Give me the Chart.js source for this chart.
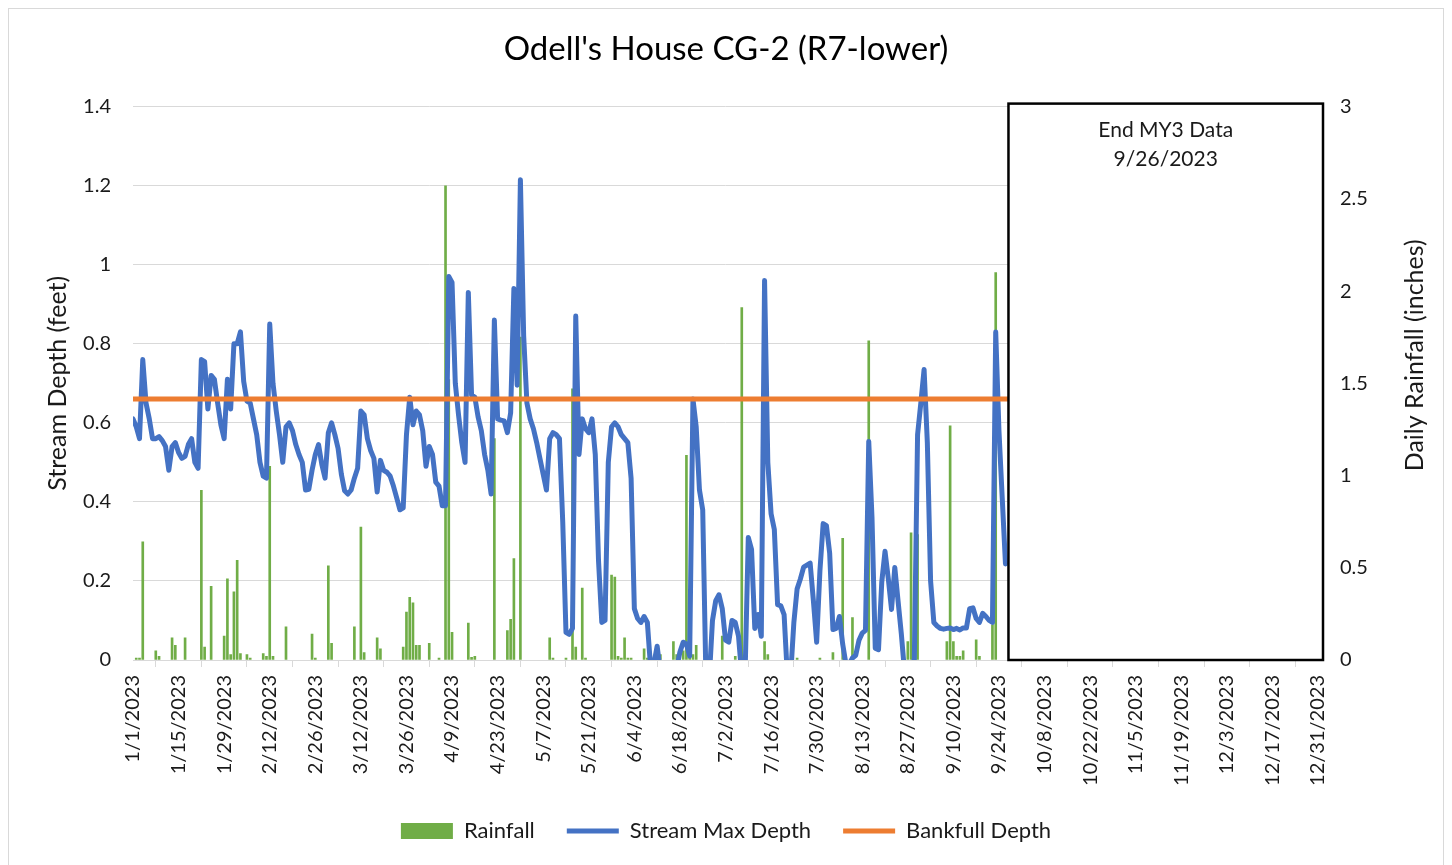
<!DOCTYPE html>
<html>
<head>
<meta charset="utf-8">
<script src="https://cdn.jsdelivr.net/npm/chart.js@4.4.1/dist/chart.umd.min.js"></script>
<style>
  html, body { margin: 0; padding: 0; background: #fff; }
</style>
</head>
<body>
<canvas id="depth-chart" width="1452" height="865"></canvas>
<script>
// daily max stream depth (ft) from 1/1/2023 up to the end of MY3 data
const depthFt = [
  0.61, 0.59, 0.56, 0.76, 0.65, 0.61, 0.56, 0.56, 0.565, 0.555,
  0.54, 0.48, 0.54, 0.55, 0.525, 0.51, 0.515, 0.545, 0.56, 0.50,
  0.485, 0.76, 0.755, 0.635, 0.72, 0.71, 0.65, 0.595, 0.56, 0.71,
  0.635, 0.80, 0.80, 0.83, 0.705, 0.655, 0.65, 0.61, 0.57, 0.50,
  0.465, 0.46, 0.85, 0.70, 0.63, 0.57, 0.50, 0.59, 0.60, 0.58,
  0.545, 0.52, 0.50, 0.43, 0.432, 0.48, 0.52, 0.545, 0.495, 0.46,
  0.575, 0.60, 0.57, 0.535, 0.47, 0.428, 0.42, 0.43, 0.46, 0.485,
  0.63, 0.62, 0.56, 0.53, 0.51, 0.425, 0.505, 0.48, 0.475, 0.465,
  0.44, 0.41, 0.38, 0.385, 0.57, 0.665, 0.595, 0.63, 0.62, 0.58,
  0.49, 0.54, 0.52, 0.45, 0.44, 0.39, 0.39, 0.97, 0.955, 0.70,
  0.62, 0.55, 0.50, 0.93, 0.67, 0.665, 0.615, 0.58, 0.52, 0.48,
  0.42, 0.86, 0.61, 0.607, 0.605, 0.575, 0.625, 0.94, 0.695, 1.215,
  0.82, 0.65, 0.61, 0.585, 0.55, 0.51, 0.47, 0.43, 0.56, 0.575,
  0.57, 0.56, 0.35, 0.07, 0.065, 0.08, 0.87, 0.52, 0.61, 0.585,
  0.575, 0.61, 0.52, 0.25, 0.095, 0.10, 0.50, 0.59, 0.60, 0.59,
  0.57, 0.56, 0.55, 0.46, 0.13, 0.105, 0.095, 0.11, 0.095, -0.02,
  -0.01, 0.035, -0.03, -0.06, -0.06, -0.06, -0.05, -0.02, 0.02, 0.045,
  0.04, 0.01, 0.66, 0.59, 0.43, 0.38, -0.05, -0.05, 0.10, 0.15,
  0.165, 0.13, 0.05, 0.045, 0.10, 0.095, 0.06, -0.04, -0.04, 0.31,
  0.28, 0.08, 0.115, 0.06, 0.96, 0.50, 0.37, 0.33, 0.14, 0.137,
  0.115, -0.04, -0.04, 0.095, 0.18, 0.205, 0.235, 0.24, 0.245, 0.15,
  0.045, 0.225, 0.345, 0.34, 0.27, 0.077, 0.08, 0.11, 0.04, -0.01,
  -0.01, 0.005, 0.012, 0.05, 0.068, 0.075, 0.553, 0.36, 0.03, 0.026,
  0.197, 0.275, 0.206, 0.128, 0.234, 0.15, 0.067, -0.03, -0.01, -0.01,
  0.0, 0.57, 0.65, 0.735, 0.55, 0.2, 0.095, 0.086, 0.08, 0.078,
  0.08, 0.081, 0.077, 0.08, 0.076, 0.081, 0.081, 0.13, 0.132, 0.105,
  0.095, 0.118, 0.11, 0.10, 0.095, 0.83, 0.58, 0.41, 0.243
];

// days with rainfall and the amount (inches)
const rainDates = [
  '1/2', '1/3', '1/4', '1/8', '1/9', '1/13', '1/14', '1/17', '1/22', '1/23',
  '1/25', '1/29', '1/30', '1/31', '2/1', '2/2', '2/3', '2/5', '2/6', '2/10',
  '2/11', '2/12', '2/13', '2/17', '2/25', '2/26', '3/2', '3/3', '3/10', '3/12',
  '3/13', '3/17', '3/18', '3/25', '3/26', '3/27', '3/28', '3/29', '3/30', '4/2',
  '4/5', '4/7', '4/8', '4/9', '4/14', '4/15', '4/16', '4/22', '4/26', '4/27',
  '4/28', '4/30', '5/9', '5/10', '5/14', '5/16', '5/17', '5/19', '5/20', '5/28',
  '5/29', '5/30', '5/31', '6/1', '6/2', '6/3', '6/7', '6/8', '6/12', '6/16',
  '6/17', '6/19', '6/20', '6/21', '6/22', '6/23', '7/1', '7/5', '7/7', '7/14',
  '7/15', '7/24', '7/31', '8/4', '8/7', '8/10', '8/15', '8/27', '8/28', '8/29',
  '8/30', '9/8', '9/9', '9/10', '9/11', '9/12', '9/13', '9/17', '9/18', '9/22',
  '9/23'
];
const rainInches = [
  0.01, 0.01, 0.64, 0.05, 0.02, 0.12, 0.08, 0.12, 0.92, 0.07,
  0.40, 0.13, 0.44, 0.03, 0.37, 0.54, 0.035, 0.03, 0.01, 0.035,
  0.02, 1.05, 0.02, 0.18, 0.14, 0.01, 0.51, 0.09, 0.18, 0.72,
  0.04, 0.12, 0.06, 0.07, 0.26, 0.34, 0.31, 0.08, 0.08, 0.09,
  0.01, 2.57, 1.52, 0.15, 0.20, 0.015, 0.02, 1.2, 0.16, 0.22,
  0.55, 1.75, 0.12, 0.01, 0.01, 1.47, 0.07, 0.39, 0.01, 0.46,
  0.45, 0.02, 0.01, 0.12, 0.01, 0.01, 0.06, 0.01, 0.03, 0.10,
  0.03, 0.05, 1.11, 0.03, 0.03, 0.08, 0.13, 0.02, 1.91, 0.10,
  0.03, 0.01, 0.01, 0.04, 0.66, 0.23, 1.73, 0.10, 0.69, 0.09,
  0.68, 0.10, 1.27, 0.10, 0.02, 0.02, 0.05, 0.11, 0.02, 0.19,
  2.10
];

const bankfullFt = 0.66;
const endDate = '9/26';
const yearStart = new Date(2023, 0, 1);

function dayOfYear(s) {
  const [m, d] = s.split('/').map(Number);
  return Math.round((new Date(2023, m - 1, d) - yearStart) / 86400000);
}

function dateLabel(day) {
  const dt = new Date(2023, 0, 1 + day);
  return (dt.getMonth() + 1) + '/' + dt.getDate() + '/' + dt.getFullYear();
}

const fontFamily = "Lato, 'Noto Sans', sans-serif";
Chart.defaults.font.family = fontFamily;
Chart.defaults.color = '#1a1a1a';

// white page with the thin grey frame round it
const frame = {
  id: 'frame',
  beforeDraw(chart) {
    const ctx = chart.ctx;
    ctx.save();
    ctx.fillStyle = '#fff';
    ctx.fillRect(0, 0, chart.width, chart.height);
    ctx.strokeStyle = '#d9d9d9';
    ctx.lineWidth = 1;
    ctx.strokeRect(8.5, 8.5, chart.width - 17, chart.height + 20);
    ctx.restore();
  }
};

// box that blanks out the period after the last reading
const endBox = {
  id: 'endBox',
  afterDatasetsDraw(chart) {
    const { ctx, chartArea } = chart;
    const x = chart.scales.x;
    const left = x.getPixelForValue(dayOfYear(endDate)) + 3;
    const right = chartArea.right + 5;
    const top = chartArea.top - 3;
    const bottom = chartArea.bottom;
    ctx.save();
    ctx.fillStyle = '#fff';
    ctx.fillRect(left, top, right - left, bottom - top);
    ctx.strokeStyle = '#000';
    ctx.lineWidth = 2.5;
    ctx.strokeRect(left, top, right - left, bottom - top);
    ctx.fillStyle = '#1a1a1a';
    ctx.font = '21px ' + fontFamily;
    ctx.textAlign = 'center';
    ctx.textBaseline = 'middle';
    const cx = (left + right) / 2;
    ctx.fillText('End MY3 Data', cx, top + 27);
    ctx.fillText(endDate + '/2023', cx, top + 56);
    ctx.restore();
  }
};

// right axis title reads bottom-to-top like the left one
const rainTitle = {
  id: 'rainTitle',
  afterDraw(chart) {
    const { ctx, chartArea } = chart;
    const s = chart.scales.yRain;
    ctx.save();
    ctx.translate(s.right - 37, (chartArea.top + chartArea.bottom) / 2 - 28);
    ctx.rotate(-Math.PI / 2);
    ctx.fillStyle = '#1a1a1a';
    ctx.font = '25px ' + fontFamily;
    ctx.textAlign = 'center';
    ctx.textBaseline = 'middle';
    ctx.fillText('Daily Rainfall (inches)', 0, 0);
    ctx.restore();
  }
};

const rainPoints = rainDates.map((d, i) => ({ x: dayOfYear(d), y: rainInches[i] }));
const depthPoints = depthFt.map((v, i) => ({ x: i, y: v }));
const bankfullPoints = [{ x: 0, y: bankfullFt }, { x: 364, y: bankfullFt }];

const ctx = document.getElementById('depth-chart').getContext('2d');
new Chart(ctx, {
  type: 'bar',
  data: {
    datasets: [
      {
        label: 'Rainfall',
        data: rainPoints,
        yAxisID: 'yRain',
        backgroundColor: '#70AD47',
        borderWidth: 0,
        barThickness: 2,
        pointStyle: 'rect',
        order: 3
      },
      {
        type: 'line',
        label: 'Stream Max Depth',
        data: depthPoints,
        yAxisID: 'y',
        borderColor: '#4472C4',
        backgroundColor: '#4472C4',
        borderWidth: 5,
        borderJoinStyle: 'round',
        borderCapStyle: 'round',
        pointRadius: 0,
        pointStyle: 'line',
        tension: 0,
        clip: 0,
        order: 2
      },
      {
        type: 'line',
        label: 'Bankfull Depth',
        data: bankfullPoints,
        yAxisID: 'y',
        borderColor: '#ED7D31',
        backgroundColor: '#ED7D31',
        borderWidth: 5,
        pointRadius: 0,
        pointStyle: 'line',
        clip: 0,
        order: 1
      }
    ]
  },
  options: {
    responsive: false,
    animation: false,
    layout: { padding: { left: 0, right: 0, top: 0, bottom: 13 } },
    plugins: {
      title: {
        display: true,
        text: "Odell's House CG-2 (R7-lower)",
        color: '#000',
        font: { size: 33, weight: 'normal' },
        padding: { top: 30, bottom: 37 }
      },
      legend: {
        position: 'bottom',
        labels: {
          usePointStyle: true,
          pointStyleWidth: 52,
          boxHeight: 16,
          padding: 32,
          font: { size: 22 },
          color: '#1a1a1a',
          sort: (a, b) => a.datasetIndex - b.datasetIndex
        }
      },
      tooltip: { enabled: false }
    },
    scales: {
      x: {
        type: 'linear',
        min: 0,
        max: 364,
        offset: false,
        ticks: {
          stepSize: 14,
          autoSkip: false,
          minRotation: 90,
          maxRotation: 90,
          padding: 8,
          font: { size: 20 },
          callback: (v) => dateLabel(v)
        },
        grid: { drawOnChartArea: false, tickLength: 7, color: '#d9d9d9' },
        border: { color: '#d9d9d9' },
        afterFit: (s) => { s.height = 128; }
      },
      y: {
        position: 'left',
        min: 0,
        max: 1.4,
        ticks: {
          stepSize: 0.2,
          padding: 22,
          font: { size: 20 },
          callback: (v) => +v.toFixed(1)
        },
        grid: { color: '#d9d9d9', drawTicks: false },
        border: { display: false },
        title: {
          display: true,
          text: 'Stream Depth (feet)',
          font: { size: 25 },
          padding: { top: 43, bottom: 0 }
        },
        afterFit: (s) => { s.width = 133; }
      },
      yRain: {
        position: 'right',
        min: 0,
        max: 3,
        ticks: {
          stepSize: 0.5,
          padding: 22,
          font: { size: 20 },
          callback: (v) => +v.toFixed(1)
        },
        grid: { drawOnChartArea: false, drawTicks: false },
        border: { display: false },
        afterFit: (s) => { s.width = 134; }
      }
    }
  },
  plugins: [frame, endBox, rainTitle]
});
</script>
</body>
</html>
